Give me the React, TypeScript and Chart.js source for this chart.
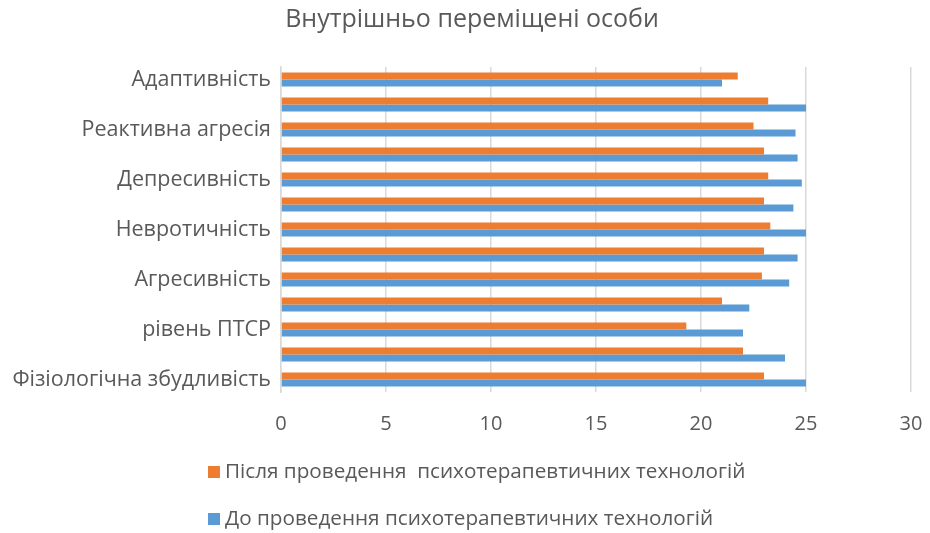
import React, { useEffect, useRef } from 'react';
import { Chart, registerables } from 'chart.js';

Chart.register(...registerables);

const TITLE = 'Внутрішньо переміщені особи';

// categories listed top to bottom (unlabelled rows are skipped labels in the original)
const categories = [
  'Адаптивність',
  '',
  'Реактивна агресія',
  '',
  'Депресивність',
  '',
  'Невротичність',
  '',
  'Агресивність',
  '',
  'рівень ПТСР',
  '',
  'Фізіологічна збудливість',
];

const afterValues = [21.75, 23.2, 22.5, 23.0, 23.2, 23.0, 23.3, 23.0, 22.9, 21.0, 19.3, 22.0, 23.0];
const beforeValues = [21.0, 25.0, 24.5, 24.6, 24.8, 24.4, 25.0, 24.6, 24.2, 22.3, 22.0, 24.0, 25.0];

const xTicks = [0, 5, 10, 15, 20, 25, 30];

const seriesLabels = [
  'Після проведення  психотерапевтичних технологій',
  'До проведення психотерапевтичних технологій',
];
const seriesColors = ['#ED7D31', '#5B9BD5'];

const FONT = "'Open Sans', sans-serif";
const TEXT = '#595959';
const GRID = '#D9D9D9';

export default function App() {
  const ref = useRef<HTMLCanvasElement>(null);

  useEffect(() => {
    document.body.style.margin = '0';
    const canvas = ref.current;
    if (!canvas) return;

    const titleLegend = {
      id: 'titleLegend',
      afterDraw(chart: any) {
        const ctx = chart.ctx as CanvasRenderingContext2D;
        ctx.save();
        ctx.fillStyle = TEXT;
        ctx.font = `25px ${FONT}`;
        ctx.textAlign = 'center';
        ctx.textBaseline = 'middle';
        ctx.fillText(TITLE, 472, 20);

        const legendY = [472, 519];
        ctx.font = `20.7px ${FONT}`;
        ctx.textAlign = 'left';
        chart.data.datasets.forEach((ds: any, i: number) => {
          const y = legendY[i];
          ctx.fillStyle = ds.backgroundColor;
          ctx.fillRect(208, y - 6, 12, 12);
          ctx.fillStyle = TEXT;
          ctx.fillText(ds.label, 225, y);
        });
        ctx.restore();
      },
    };

    const chart = new Chart(canvas, {
      type: 'bar',
      data: {
        labels: categories,
        datasets: [
          {
            label: seriesLabels[0],
            data: afterValues,
            backgroundColor: seriesColors[0],
            categoryPercentage: 0.56,
            barPercentage: 1.0,
          },
          {
            label: seriesLabels[1],
            data: beforeValues,
            backgroundColor: seriesColors[1],
            categoryPercentage: 0.56,
            barPercentage: 1.0,
          },
        ],
      },
      options: {
        indexAxis: 'y',
        animation: false,
        responsive: false,
        layout: { autoPadding: false, padding: { top: 67, right: 19, bottom: 0, left: 0 } },
        plugins: {
          legend: { display: false },
          title: { display: false },
          tooltip: { enabled: false },
        },
        scales: {
          x: {
            min: 0,
            max: 30,
            afterBuildTicks(scale: any) {
              scale.ticks = xTicks.map((v) => ({ value: v }));
            },
            ticks: {
              font: { family: FONT, size: 20 },
              color: TEXT,
              padding: 20,
            },
            grid: { color: GRID, drawTicks: false, lineWidth: 1.5 },
            border: { display: false },
            afterFit(scale: any) {
              scale.height = 533 - 392;
              scale.paddingLeft = 0;
              scale.paddingRight = 0;
            },
          },
          y: {
            ticks: {
              autoSkip: false,
              font: { family: FONT, size: 21.5 },
              color: TEXT,
              padding: 2,
            },
            grid: { display: false },
            border: { color: GRID, width: 1.5 },
            afterFit(scale: any) {
              scale.width = 281;
            },
          },
        },
      },
      plugins: [titleLegend],
    });

    return () => chart.destroy();
  }, []);

  return <canvas ref={ref} width={930} height={533} style={{ display: 'block' }} />;
}
